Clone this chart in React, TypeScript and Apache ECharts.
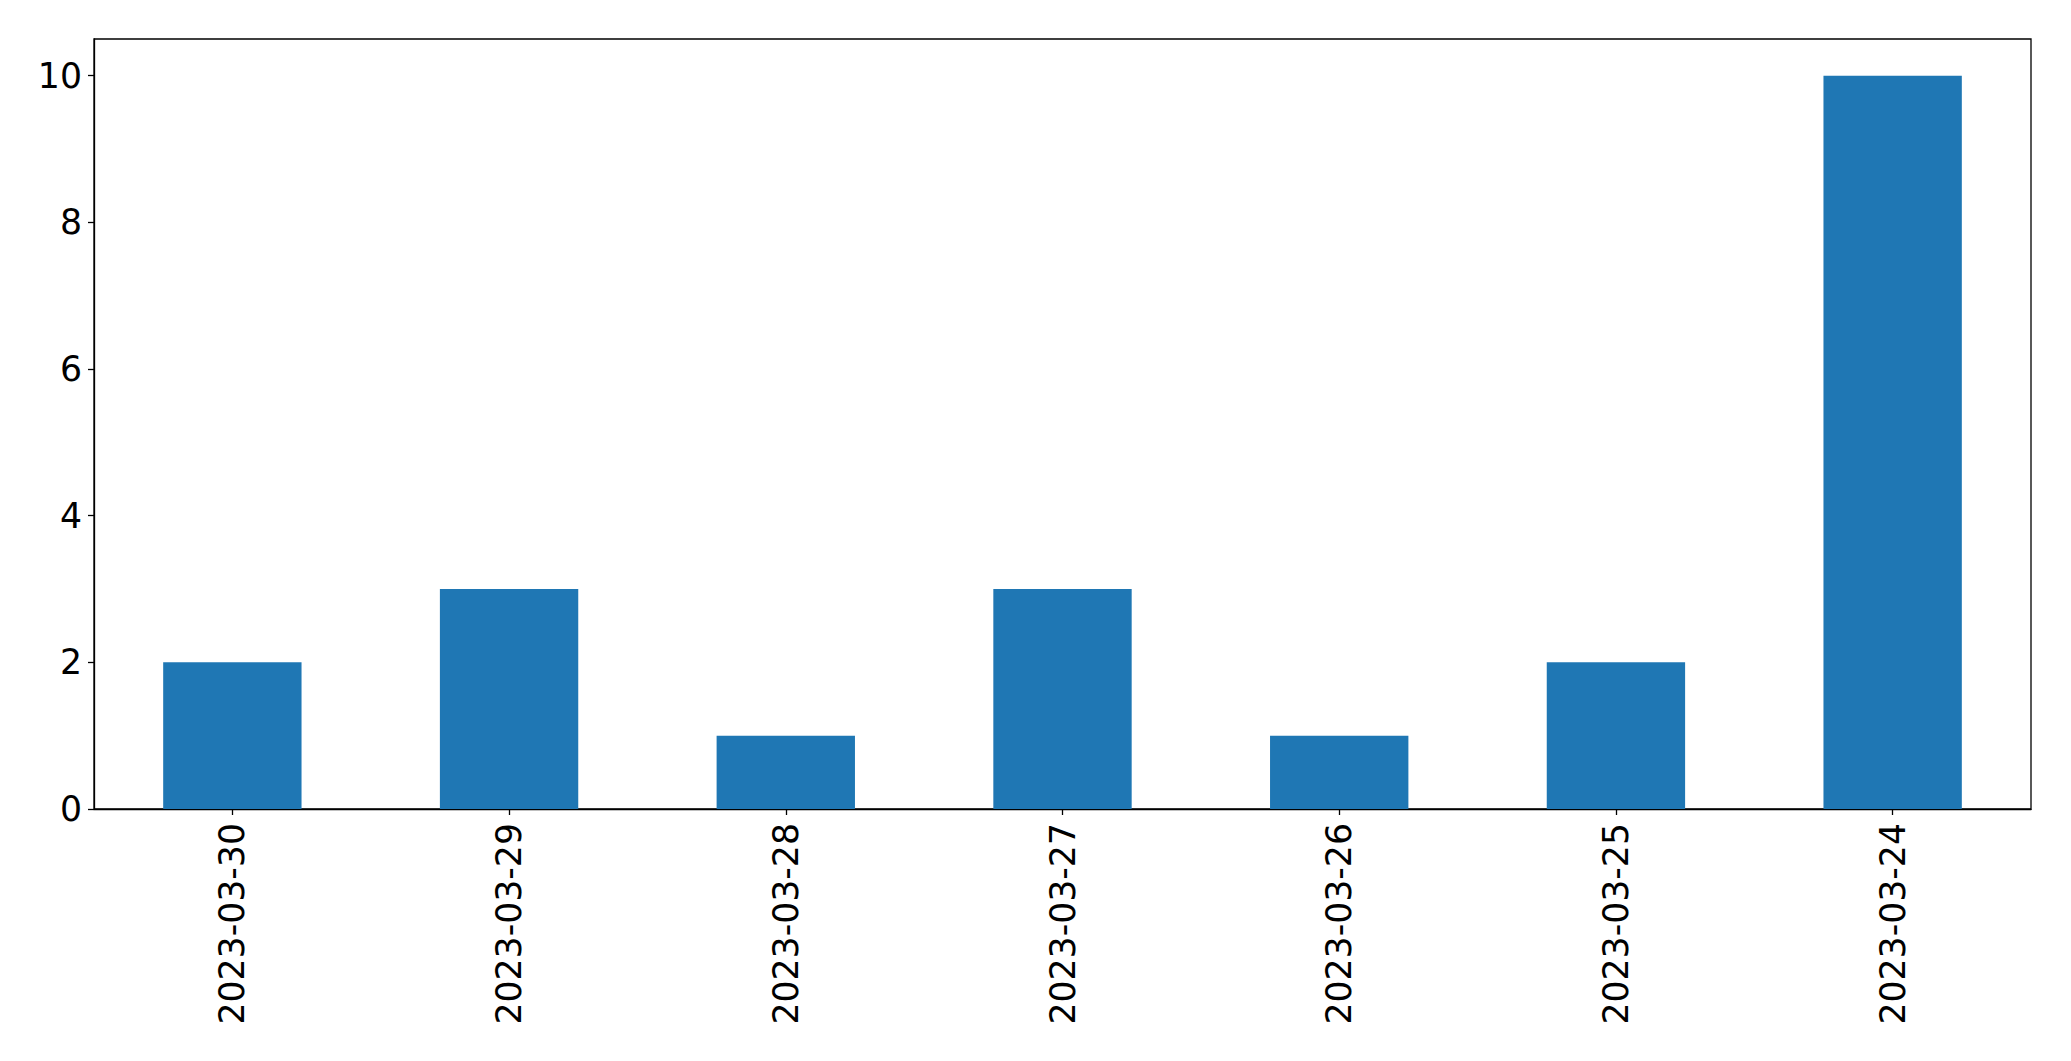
import React, { useEffect, useRef } from "react";
import * as echarts from "echarts";

const categories = ["2023-03-30", "2023-03-29", "2023-03-28", "2023-03-27", "2023-03-26", "2023-03-25", "2023-03-24"];
const values = [2, 3, 1, 3, 1, 2, 10];
const yTicks = [0, 2, 4, 6, 8, 10];

export default function App() {
  const ref = useRef<HTMLDivElement>(null);
  useEffect(() => {
    if (!ref.current) return;
    const chart = echarts.init(ref.current, null, { renderer: "svg" });
    const font = "DejaVu Sans";
    chart.setOption({
      animation: false,
      backgroundColor: "#ffffff",
      grid: {
        left: 94,
        top: 39,
        right: 40,
        bottom: 252,
        show: true,
        borderColor: "#000",
        borderWidth: 1.3,
        backgroundColor: "transparent",
      },
      xAxis: {
        type: "category",
        data: categories,
        axisLine: { show: true, lineStyle: { color: "#000", width: 1.3 } },
        axisTick: { show: true, alignWithLabel: true, length: 6, lineStyle: { color: "#000", width: 1.3 } },
        axisLabel: { rotate: 90, margin: 14, fontSize: 34.7, fontFamily: font, color: "#000" },
        splitLine: { show: false },
      },
      yAxis: {
        type: "value",
        min: 0,
        max: 10.5,
        interval: 2,
        axisLine: { show: true, lineStyle: { color: "#000", width: 1.3 } },
        axisTick: { show: true, length: 6, customValues: yTicks, lineStyle: { color: "#000", width: 1.3 } },
        axisLabel: { margin: 12, fontSize: 34.7, fontFamily: font, color: "#000", customValues: yTicks },
        splitLine: { show: false },
      },
      series: [
        {
          type: "bar",
          data: values,
          barCategoryGap: "50%",
          itemStyle: { color: "#1f77b4" },
        },
      ],
    });
    return () => chart.dispose();
  }, []);
  return <div ref={ref} style={{ position: "fixed", left: 0, top: 0, width: 2071, height: 1061, background: "#fff" }} />;
}
